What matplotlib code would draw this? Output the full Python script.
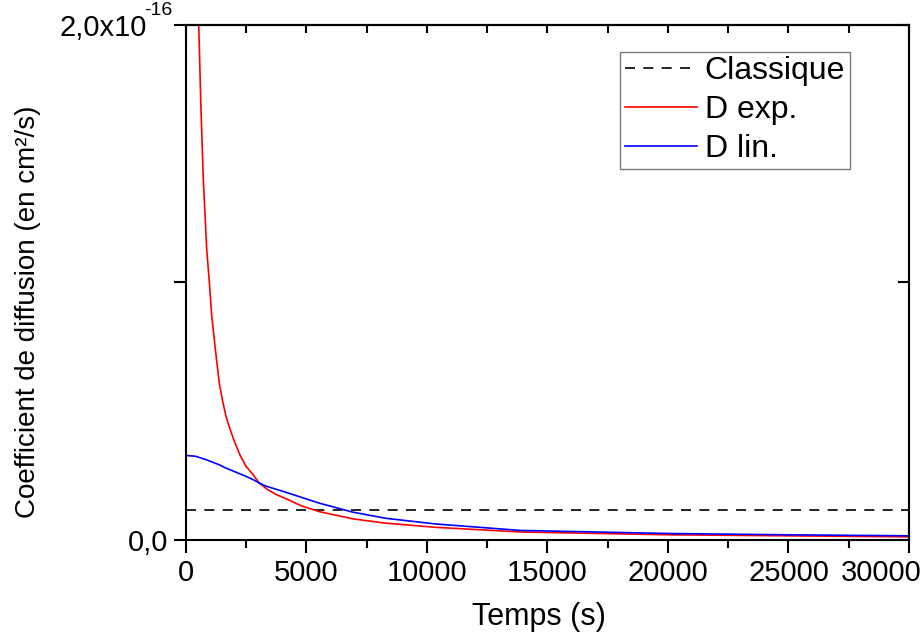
import matplotlib
matplotlib.use('Agg')
import matplotlib.pyplot as plt
from matplotlib.ticker import FixedLocator, FixedFormatter, MultipleLocator
from matplotlib.transforms import ScaledTranslation

plt.rcParams['font.family'] = ['Liberation Sans', 'DejaVu Sans']

# values (time in s, D in units of 1e-18 cm^2/s)
classique_t = [0, 30000]
classique_d = [11.7, 11.7]

exp_t = [450, 530, 620, 720, 860, 970, 1070, 1220, 1380, 1520, 1660, 1830, 2000,
         2240, 2490, 2770, 3040, 3380, 3730, 4150, 4800, 5530, 6920, 8300, 10370,
         13860, 20080, 25000, 28800, 30000]
exp_d = [230, 200, 168, 140, 113, 100, 87, 74, 61, 54, 48, 43, 38.5,
         33, 28.6, 25.5, 22.1, 19.6, 17.7, 16.0, 13.2, 11.0, 8.2, 6.5, 4.9,
         3.1, 2.0, 1.6, 1.3, 1.2]

lin_t = [0, 400, 830, 1380, 1660, 2490, 2770, 3040, 3320, 4150, 5530, 6920,
         8300, 10370, 13860, 20080, 25000, 28800, 30000]
lin_d = [32.8, 32.5, 31.2, 29.2, 27.9, 24.7, 23.5, 22.1, 20.9, 18.5, 14.3, 10.8,
         8.4, 6.2, 3.7, 2.5, 2.0, 1.7, 1.6]

scale = 1e-18

fig = plt.figure(figsize=(9.22, 6.39), dpi=100)
ax = fig.add_axes([0.2017, 0.155, 0.7842, 0.806])

ax.plot(classique_t, [v * scale for v in classique_d], color='black', ls=(0, (6, 5)),
        lw=1.2, label='Classique')
ax.plot(exp_t, [v * scale for v in exp_d], color='#ff0000', lw=1.2, label='D exp.')
ax.plot(lin_t, [v * scale for v in lin_d], color='#0000ff', lw=1.2, label='D lin.')

ax.set_xlim(0, 30000)
ax.set_ylim(0, 2e-16)

ax.xaxis.set_major_locator(MultipleLocator(5000))
ax.xaxis.set_minor_locator(MultipleLocator(2500))
ax.yaxis.set_major_locator(FixedLocator([0, 2e-16]))
ax.yaxis.set_major_formatter(FixedFormatter(['0,0', '2,0x10']))
ax.yaxis.set_minor_locator(FixedLocator([1e-16]))

for side in ['left', 'right', 'top', 'bottom']:
    ax.spines[side].set_linewidth(1.5)

ax.tick_params(axis='both', which='major', direction='out', length=9, width=1.5,
               labelsize=21, top=False, right=False)
ax.tick_params(axis='x', which='major', pad=5)
ax.tick_params(axis='both', which='minor', direction='out', length=6, width=1.5)
ax.tick_params(axis='y', which='minor', length=9)

# exponent of the top y label
ax.annotate('-16', xy=(0, 1), xycoords='axes fraction', xytext=(-14, 14),
            textcoords='offset pixels', ha='right', va='center', fontsize=14)

# inward ticks on top and right
sec_x = ax.secondary_xaxis('top')
sec_x.xaxis.set_major_locator(MultipleLocator(5000))
sec_x.xaxis.set_minor_locator(MultipleLocator(2500))
sec_x.tick_params(which='both', direction='in', length=6, width=1.5, labeltop=False)
sec_x.spines['top'].set_linewidth(1.5)
sec_y = ax.secondary_yaxis('right')
sec_y.yaxis.set_major_locator(FixedLocator([0, 2e-16]))
sec_y.yaxis.set_minor_locator(FixedLocator([1e-16]))
sec_y.tick_params(which='both', direction='in', length=8, width=1.5, labelright=False)
sec_y.spines['right'].set_linewidth(1.5)

ax.set_xlabel('Temps (s)', fontsize=22)
ax.xaxis.set_label_coords(0.488, -0.12)
ax.set_ylabel('Coefficient de diffusion (en cm²/s)', fontsize=20)
ax.yaxis.set_label_coords(-0.200, 0.443)

leg = ax.legend(loc='upper right', bbox_to_anchor=(0.918, 0.948), fontsize=23,
                frameon=True, fancybox=False, handlelength=2.25, handletextpad=0.25,
                borderpad=0.15, labelspacing=0.28, borderaxespad=0)
leg.get_frame().set_edgecolor('#555555')
leg.get_frame().set_linewidth(1.0)

# shift a couple of tick labels the way the reference places them
fig.canvas.draw()
for lab in ax.get_xticklabels():
    if lab.get_text() == '30000':
        lab.set_transform(lab.get_transform() + ScaledTranslation(-0.28, 0, fig.dpi_scale_trans))
for lab in ax.get_yticklabels():
    if lab.get_text() == '2,0x10':
        lab.set_transform(lab.get_transform() + ScaledTranslation(-0.22, 0, fig.dpi_scale_trans))

fig.savefig('out.png', dpi=100)
